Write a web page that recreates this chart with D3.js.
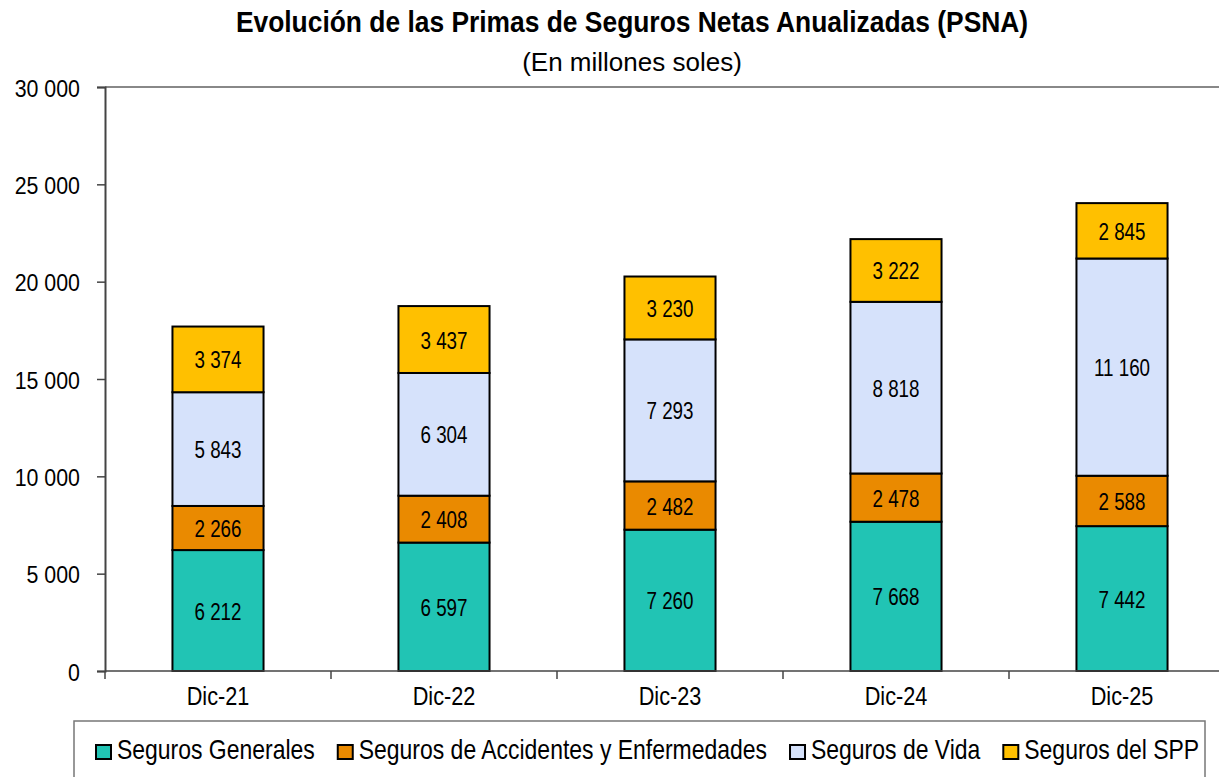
<!DOCTYPE html>
<html>
<head>
<meta charset="utf-8">
<script src="https://cdn.jsdelivr.net/npm/d3@7"></script>
<style>
  body { margin: 0; background: #fff; }
  svg { display: block; font-family: "Liberation Sans", Arial, sans-serif; }
</style>
</head>
<body>
<svg id="svg" width="1219" height="777"></svg>
<script>
const categories = ["Dic-21", "Dic-22", "Dic-23", "Dic-24", "Dic-25"];
const seriesNames = ["Seguros Generales", "Seguros de Accidentes y Enfermedades", "Seguros de Vida", "Seguros del SPP"];
const generales = [6212, 6597, 7260, 7668, 7442];
const accidentes = [2266, 2408, 2482, 2478, 2588];
const vida = [5843, 6304, 7293, 8818, 11160];
const spp = [3374, 3437, 3230, 3222, 2845];
const yTicks = [0, 5000, 10000, 15000, 20000, 25000, 30000];
const colors = ["#21c4b4", "#ea8a00", "#d6e2fb", "#ffc000"];

const svg = d3.select("#svg");

const x = d3.scaleBand().domain(categories).range([105, 1235]).padding(0);
const y = d3.scaleLinear().domain([0, 30000]).range([671, 87]);
const barW = x.bandwidth() * 0.403;

const fmt = v => d3.format(",")(v).replace(/,/g, " ");

// texto algo comprimido a lo ancho, como en el original
function label(g, tx, ty, txt, size, sx, anchor, weight) {
  return g.append("text")
    .attr("transform", `translate(${tx},${ty}) scale(${sx},1)`)
    .attr("text-anchor", anchor || "middle")
    .style("font-size", size + "px")
    .style("font-weight", weight || "normal")
    .text(txt);
}

// títulos
label(svg, 632, 32, "Evolución de las Primas de Seguros Netas Anualizadas (PSNA)", 29, 0.91, "middle", "bold");
label(svg, 632, 71, "(En millones soles)", 26, 1.0);

// marco superior del área de gráfico
svg.append("line")
  .attr("x1", 105).attr("x2", 1219).attr("y1", 87).attr("y2", 87)
  .attr("stroke", "#888").attr("stroke-width", 2);

// apilado
const table = categories.map((c, i) => ({
  cat: c, s0: generales[i], s1: accidentes[i], s2: vida[i], s3: spp[i]
}));
const stack = d3.stack().keys(["s0", "s1", "s2", "s3"])(table);

const layers = svg.selectAll("g.layer")
  .data(stack)
  .enter()
  .append("g")
  .attr("class", "layer")
  .attr("fill", (d, i) => colors[i]);

layers.selectAll("rect")
  .data(d => d)
  .enter()
  .append("rect")
  .attr("x", d => x(d.data.cat) + (x.bandwidth() - barW) / 2)
  .attr("y", d => y(d[1]))
  .attr("width", barW)
  .attr("height", d => y(d[0]) - y(d[1]))
  .attr("stroke", "#000")
  .attr("stroke-width", 2);

// etiquetas de valores
stack.forEach(layer => {
  layer.forEach(d => {
    const cx = x(d.data.cat) + x.bandwidth() / 2;
    const cy = (y(d[0]) + y(d[1])) / 2 + 9;
    label(svg, cx, cy, fmt(d[1] - d[0]), 23.5, 0.8);
  });
});

// eje Y
const yAxis = svg.append("g")
  .attr("transform", "translate(105,0)")
  .call(d3.axisLeft(y).tickValues(yTicks).tickSize(8).tickPadding(25).tickFormat(fmt));
yAxis.select(".domain").attr("stroke", "#444").attr("stroke-width", 2);
yAxis.selectAll(".tick line").attr("stroke", "#444").attr("stroke-width", 1.5);
yAxis.selectAll(".tick text")
  .attr("x", null).attr("dy", null)
  .attr("transform", "translate(-25,9) scale(0.89,1)")
  .style("font-size", "24px").attr("fill", "#000");

// eje X
const xAxis = svg.append("g")
  .attr("transform", "translate(0,671)");
xAxis.append("line")
  .attr("x1", 105).attr("x2", 1235)
  .attr("stroke", "#444").attr("stroke-width", 1.5);
xAxis.selectAll("line.sep")
  .data(categories.concat([null]))
  .enter()
  .append("line")
  .attr("class", "sep")
  .attr("x1", (d, i) => 105 + i * x.step())
  .attr("x2", (d, i) => 105 + i * x.step())
  .attr("y1", 0).attr("y2", 8)
  .attr("stroke", "#444").attr("stroke-width", 1.5);
categories.forEach(c => {
  label(xAxis, x(c) + x.bandwidth() / 2, 34, c, 25.5, 0.85);
});

// leyenda
svg.append("rect")
  .attr("x", 74).attr("y", 721).attr("width", 1131).attr("height", 100)
  .attr("fill", "none").attr("stroke", "#777").attr("stroke-width", 1.5);

let lx = 95;
seriesNames.forEach((name, i) => {
  svg.append("rect")
    .attr("x", lx + 1).attr("y", 745)
    .attr("width", 15).attr("height", 14)
    .attr("fill", colors[i]).attr("stroke", "#000").attr("stroke-width", 2);
  const t = label(svg, lx + 22, 759, name, 28, 0.82, "start");
  const w = t.node().getComputedTextLength() * 0.82;
  lx += 22 + w + 22;
});
</script>
</body>
</html>
